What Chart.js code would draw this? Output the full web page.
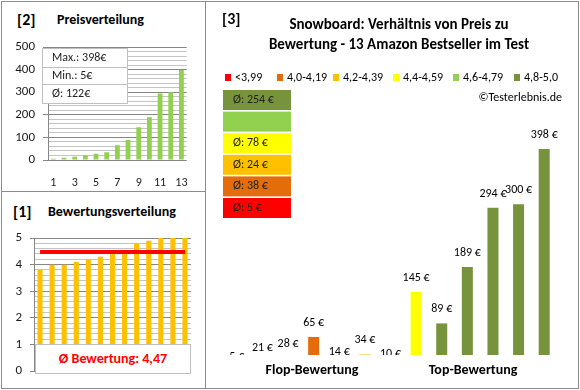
<!DOCTYPE html>
<html>
<head>
<meta charset="utf-8">
<script src="https://cdn.jsdelivr.net/npm/chart.js@4.4.1/dist/chart.umd.min.js"></script>
<style>
body { margin: 0; background: #fff; font-family: Carlito, Lato, sans-serif; }
#frame { position: absolute; left: 1px; top: 1px; width: 578px; height: 388px; box-sizing: border-box; border: 1px solid #8c8c8c; }
.vl { position: absolute; left: 205px; top: 1px; width: 1px; height: 388px; background: #8c8c8c; }
.hl { position: absolute; left: 1px; top: 191px; width: 205px; height: 1px; background: #8c8c8c; }
.t { position: absolute; font-weight: bold; white-space: nowrap; line-height: 20px; color: #000; }
canvas { position: absolute; }
#schnitt { position: absolute; z-index: 2; left: 35px; top: 344px; width: 156px; height: 30px; box-sizing: border-box;
    border: 1px solid #bfbfbf; background: #fff; color: #FF0000; font-weight: bold; font-size: 14px;
    line-height: 28px; text-align: center; white-space: nowrap; }
</style>
</head>
<body>
<div id="frame"></div>
<div class="vl"></div>
<div class="hl"></div>
<div class="t" style="left:17px;top:10px;font-size:16px">[2]</div>
<div class="t" style="left:57px;top:10px;font-size:14px">Preisverteilung</div>
<div class="t" style="left:13px;top:202px;font-size:16px">[1]</div>
<div class="t" style="left:48px;top:202px;font-size:14px">Bewertungsverteilung</div>
<canvas id="preis" width="202" height="188" style="left:2px;top:2px"></canvas>
<canvas id="bewertung" width="202" height="195" style="left:2px;top:192px"></canvas>
<canvas id="verhaeltnis" width="371" height="385" style="left:206px;top:2px"></canvas>
<div id="schnitt"></div>
<script>
const FONT = "Carlito, Lato, sans-serif";

// daten
const produkte = ["1", "2", "3", "4", "5", "6", "7", "8", "9", "10", "11", "12", "13"];
const preiseSortiert = [5, 10, 14, 21, 28, 34, 65, 89, 145, 189, 294, 300, 398];
const bewertungen = [3.8, 4.0, 4.0, 4.1, 4.2, 4.3, 4.4, 4.4, 4.8, 4.9, 5.0, 5.0, 5.0];
const preiseNachBewertung = [5, 21, 28, 65, 14, 34, 10, 145, 89, 189, 294, 300, 398];
const bewertungSchnitt = 4.47;

const klassenNamen = ["<3,99", "4,0-4,19", "4,2-4,39", "4,4-4,59", "4,6-4,79", "4,8-5,0"];
const klassenGrenzen = [0, 4.0, 4.2, 4.4, 4.6, 4.8];
const klassenFarben = ["#FF0000", "#E46C0A", "#FFC000", "#FFFF00", "#92D050", "#77933C"];

const GRID_MAJOR = "#868686";
const GRID_MINOR = "#c4c4c4";

function klasse(b) {
    let k = 0;
    klassenGrenzen.forEach((g, i) => { if (b >= g - 1e-9) k = i; });
    return k;
}
function isInt(v) { return Math.abs(v - Math.round(v)) < 1e-6; }

// [1] Bewertungsverteilung
document.getElementById('schnitt').textContent =
    "Ø Bewertung: " + bewertungSchnitt.toFixed(2).replace(".", ",");

const schnittLinie = {
    id: 'schnittLinie',
    afterDatasetsDraw(chart) {
        const ctx = chart.ctx;
        const x = chart.scales.x, y = chart.scales.y;
        const yy = y.getPixelForValue(bewertungSchnitt);
        ctx.save();
        ctx.strokeStyle = "#FF0000";
        ctx.lineWidth = 4;
        ctx.beginPath();
        ctx.moveTo(x.getPixelForValue(0), yy);
        ctx.lineTo(x.getPixelForValue(produkte.length - 1), yy);
        ctx.stroke();
        ctx.restore();
    }
};

new Chart(document.getElementById('bewertung'), {
    type: 'bar',
    data: {
        labels: produkte,
        datasets: [{
            data: bewertungen,
            backgroundColor: "#FFC000",
            barPercentage: 0.42,
            categoryPercentage: 1
        }]
    },
    options: {
        responsive: false,
        animation: false,
        layout: { padding: { left: 0, right: 13, top: 46, bottom: 12 } },
        plugins: { legend: { display: false }, tooltip: { enabled: false } },
        scales: {
            x: { display: false },
            y: {
                min: 0, max: 5,
                afterFit(s) { s.width = 32; },
                border: { color: GRID_MAJOR },
                grid: {
                    color: c => c.tick && isInt(c.tick.value) ? GRID_MAJOR : GRID_MINOR,
                    tickColor: c => c.tick && isInt(c.tick.value) ? GRID_MAJOR : "rgba(0,0,0,0)",
                    tickLength: 4
                },
                ticks: {
                    stepSize: 0.2, padding: 8, autoSkip: false,
                    color: "#1a1a1a", font: { family: FONT, size: 13 },
                    callback: v => isInt(v) ? String(Math.round(v)) : ""
                }
            }
        }
    },
    plugins: [schnittLinie]
});

// [2] Preisverteilung
const preisBox = {
    id: 'preisBox',
    afterDraw(chart) {
        const ctx = chart.ctx;
        const max = Math.max(...preiseSortiert);
        const min = Math.min(...preiseSortiert);
        const avg = Math.round(preiseSortiert.reduce((a, b) => a + b, 0) / preiseSortiert.length);
        const rows = ["Max.: " + max + "€", "Min.: " + min + "€", "Ø: " + avg + "€"];
        ctx.save();
        ctx.fillStyle = "#fff";
        ctx.fillRect(40, 46, 85, 55);
        ctx.strokeStyle = "#bfbfbf";
        ctx.lineWidth = 1;
        ctx.strokeRect(40.5, 46.5, 85, 55);
        ctx.beginPath();
        ctx.moveTo(40, 65.5); ctx.lineTo(125, 65.5);
        ctx.moveTo(40, 82.5); ctx.lineTo(125, 82.5);
        ctx.stroke();
        ctx.fillStyle = "#222";
        ctx.font = "12px " + FONT;
        ctx.textBaseline = "middle";
        rows.forEach((r, i) => ctx.fillText(r, 50, 56 + i * 18));
        ctx.restore();
    }
};

new Chart(document.getElementById('preis'), {
    type: 'bar',
    data: {
        labels: produkte,
        datasets: [{
            data: preiseSortiert,
            backgroundColor: "#92D050",
            barPercentage: 0.45,
            categoryPercentage: 1
        }]
    },
    options: {
        responsive: false,
        animation: false,
        layout: { padding: { left: 0, right: 13, top: 45, bottom: 0 } },
        plugins: { legend: { display: false }, tooltip: { enabled: false } },
        scales: {
            x: {
                grid: { display: false, drawTicks: false },
                border: { display: false },
                afterFit(s) { s.height = 30; },
                ticks: {
                    autoSkip: false, maxRotation: 0, padding: 16,
                    color: "#1a1a1a", font: { family: FONT, size: 12 },
                    callback: (v, i) => i % 2 === 0 ? produkte[i] : ""
                }
            },
            y: {
                min: 0, max: 500,
                afterFit(s) { s.width = 46; },
                border: { color: GRID_MAJOR },
                grid: {
                    color: c => c.tick && c.tick.value % 100 === 0 ? GRID_MAJOR : GRID_MINOR,
                    tickColor: c => c.tick && c.tick.value % 100 === 0 ? GRID_MAJOR : "rgba(0,0,0,0)",
                    tickLength: 5
                },
                ticks: {
                    stepSize: 20, padding: 8, autoSkip: false,
                    color: "#1a1a1a", font: { family: FONT, size: 13 },
                    callback: v => v % 100 === 0 ? String(v) : ""
                }
            }
        }
    },
    plugins: [preisBox]
});

// [3] Verhältnis Preis / Bewertung
const balkenKlassen = bewertungen.map(klasse);
const balkenFarben = balkenKlassen.map(k => klassenFarben[k]);

const verhaeltnisExtras = {
    id: 'verhaeltnisExtras',
    afterDraw(chart) {
        const ctx = chart.ctx;
        const x = chart.scales.x, y = chart.scales.y;
        const area = chart.chartArea;
        ctx.save();

        // titel
        ctx.fillStyle = "#000";
        ctx.textBaseline = "middle";
        ctx.font = "bold 16px " + FONT;
        ctx.fillText("[3]", 16, 18);
        ctx.font = "bold 15px " + FONT;
        ctx.textAlign = "center";
        ctx.fillText("Snowboard: Verhältnis von Preis zu", 193, 23);
        ctx.fillText("Bewertung - 13 Amazon Bestseller im Test", 193, 43);

        // legende
        const legX = [19, 71, 127, 187, 247, 308];
        ctx.textAlign = "left";
        ctx.font = "12px " + FONT;
        klassenNamen.forEach((n, i) => {
            ctx.fillStyle = klassenFarben[i];
            ctx.fillRect(legX[i], 72, 6, 7);
            ctx.fillStyle = "#000";
            ctx.fillText(n, legX[i] + 10, 76);
        });

        // durchschnitt je klasse
        for (let j = 0; j < klassenNamen.length; j++) {
            const k = klassenNamen.length - 1 - j;
            const top = 88 + j * 21.6;
            ctx.fillStyle = klassenFarben[k];
            ctx.fillRect(17, top, 68, 20);
            const werte = preiseNachBewertung.filter((p, i) => balkenKlassen[i] === k);
            if (werte.length) {
                const avg = Math.round(werte.reduce((a, b) => a + b, 0) / werte.length);
                ctx.fillStyle = "#222";
                ctx.fillText("Ø: " + avg + " €", 27, top + 10);
            }
        }

        ctx.fillStyle = "#000";
        ctx.textAlign = "right";
        ctx.fillText("©Testerlebnis.de", 356, 96);

        // werte ueber den balken
        ctx.save();
        ctx.beginPath();
        ctx.rect(0, 0, chart.width, area.bottom);
        ctx.clip();
        ctx.textAlign = "center";
        ctx.fillStyle = "#000";
        preiseNachBewertung.forEach((p, i) => {
            ctx.fillText(p + " €", x.getPixelForValue(i), y.getPixelForValue(p) - 14);
        });
        ctx.restore();

        // achsenbeschriftung
        ctx.textAlign = "center";
        ctx.font = "bold 14px " + FONT;
        ctx.fillStyle = "#000";
        ctx.fillText("Flop-Bewertung", 106, 368);
        ctx.fillText("Top-Bewertung", 267, 368);
        ctx.restore();
    }
};

new Chart(document.getElementById('verhaeltnis'), {
    type: 'bar',
    data: {
        labels: produkte,
        datasets: [{
            data: preiseNachBewertung,
            backgroundColor: balkenFarben,
            barPercentage: 0.43,
            categoryPercentage: 1
        }]
    },
    options: {
        responsive: false,
        animation: false,
        layout: { padding: { left: 18, right: 20, top: 98, bottom: 32 } },
        plugins: { legend: { display: false }, tooltip: { enabled: false } },
        scales: {
            x: { display: false },
            y: { display: false, min: 33, max: 485 }
        }
    },
    plugins: [verhaeltnisExtras]
});
</script>
</body>
</html>
